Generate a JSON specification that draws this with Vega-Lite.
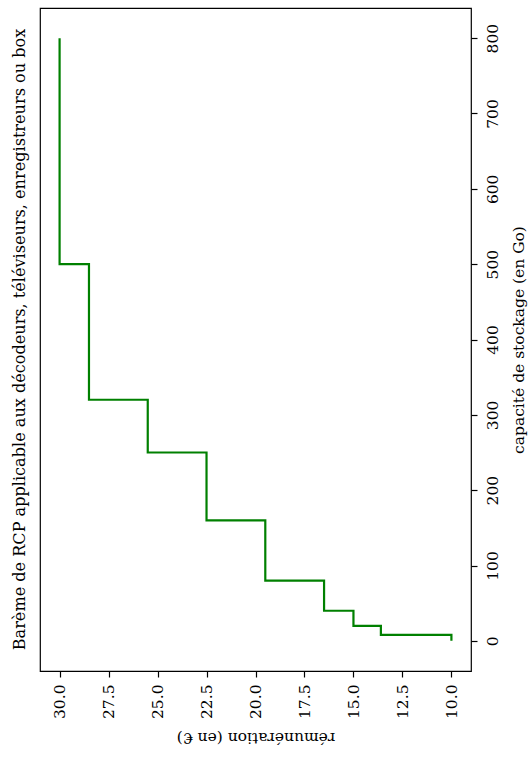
{
  "$schema": "https://vega.github.io/schema/vega-lite/v6.json",
  "width": 431,
  "height": 663,
  "autosize": {"type": "none"},
  "padding": {"left": 40, "top": 8, "right": 59, "bottom": 87},
  "background": "white",
  "title": {
    "text": "Barème de RCP applicable aux décodeurs, téléviseurs, enregistreurs ou box",
    "orient": "left",
    "anchor": "middle",
    "font": "DejaVu Serif",
    "fontSize": 16.1,
    "fontWeight": "normal",
    "color": "black",
    "offset": 12
  },
  "config": {
    "view": {"stroke": "black", "strokeWidth": 1.2},
    "axis": {"labelFont": "DejaVu Serif", "titleFont": "DejaVu Serif", "labelColor": "black", "titleColor": "black", "tickColor": "black", "tickWidth": 1.2, "grid": false, "domain": false, "titleFontWeight": "normal"}
  },
  "data": {
    "values": [
      {"capacite": 0, "remuneration": 10.0},
      {"capacite": 8, "remuneration": 13.6},
      {"capacite": 20, "remuneration": 15.0},
      {"capacite": 40, "remuneration": 16.5},
      {"capacite": 80, "remuneration": 19.5},
      {"capacite": 160, "remuneration": 22.5},
      {"capacite": 250, "remuneration": 25.5},
      {"capacite": 320, "remuneration": 28.5},
      {"capacite": 500, "remuneration": 30.0},
      {"capacite": 800, "remuneration": 30.0}
    ]
  },
  "mark": {"type": "line", "interpolate": "step-before", "color": "#008000", "strokeWidth": 2.2},
  "encoding": {
    "x": {
      "field": "remuneration",
      "type": "quantitative",
      "scale": {"domain": [31, 9], "nice": false, "zero": false},
      "axis": {
        "orient": "bottom",
        "title": "rémunération (en €)",
        "values": [10, 12.5, 15, 17.5, 20, 22.5, 25, 27.5, 30],
        "format": ".1f",
        "labelAngle": -90,
        "labelAlign": "right",
        "labelBaseline": "middle",
        "labelFontSize": 15.5,
        "tickSize": 6,
        "labelPadding": 7,
        "titleAngle": 180,
        "titleFontSize": 15.5,
        "titleX": 215.5,
        "titleY": 61,
        "titleAlign": "center",
        "titleBaseline": "alphabetic"
      }
    },
    "y": {
      "field": "capacite",
      "type": "quantitative",
      "scale": {"domain": [-40, 840], "nice": false, "zero": false},
      "axis": {
        "orient": "right",
        "title": "capacité de stockage (en Go)",
        "values": [0, 100, 200, 300, 400, 500, 600, 700, 800],
        "labelAngle": -90,
        "labelAlign": "center",
        "labelBaseline": "top",
        "labelFontSize": 15.5,
        "tickSize": 6,
        "labelPadding": 8,
        "titleAngle": -90,
        "titleFontSize": 15.5,
        "titleX": 52,
        "titleY": 331.5,
        "titleAlign": "center",
        "titleBaseline": "alphabetic"
      }
    },
    "order": {"field": "capacite", "type": "quantitative"}
  }
}
